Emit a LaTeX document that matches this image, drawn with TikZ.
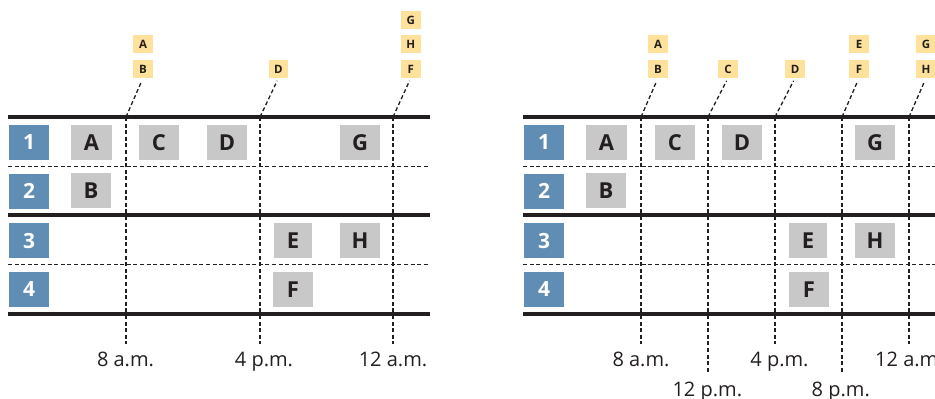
\documentclass[tikz,border=0pt]{standalone}
\usepackage{fontspec}
\setmainfont{Open Sans}
\definecolor{numblue}{HTML}{5F8DB4}
\definecolor{boxgray}{HTML}{C8C8C8}
\definecolor{labyellow}{HTML}{FEE29B}
\definecolor{ink}{HTML}{231F20}
\tikzset{
  railline/.style={draw=ink, line width=4pt},
  sepline/.style={draw=ink, line width=1.3pt, dash pattern=on 4pt off 2.6pt},
  timeline/.style={draw=ink, line width=1.3pt, dash pattern=on 4pt off 2.6pt},
  slantline/.style={draw=ink, line width=1.3pt, dash pattern=on 4pt off 2.6pt, shorten >=3pt},
  numbox/.style={fill=numblue, text=white, font=\bfseries\fontsize{21}{21}\selectfont, minimum width=40pt, minimum height=35pt, inner sep=0pt},
  jobbox/.style={fill=boxgray, text=ink, font=\bfseries\fontsize{22}{22}\selectfont, minimum width=40pt, minimum height=35pt, inner sep=0pt},
  tagbox/.style={fill=labyellow, text=ink, font=\bfseries\fontsize{11.5}{11.5}\selectfont, minimum width=19.7pt, minimum height=17.7pt, inner sep=0pt},
  timelabel/.style={font=\fontsize{20}{20}\selectfont, text=ink, anchor=base, inner sep=0pt},
}
\begin{document}
\begin{tikzpicture}[x=1pt, y=-1pt]
\clip (0,0) rectangle (935,399);
% ================= LEFT =================
% vertical time lines
\coordinate (Lv1t) at (126,117); \coordinate (Lv1b) at (126,344);
\coordinate (Lv2t) at (260,117); \coordinate (Lv2b) at (260,344);
\coordinate (Lv3t) at (393,117); \coordinate (Lv3b) at (393,344);
\draw[timeline] (Lv1t) -- (Lv1b);
\draw[timeline] (Lv2t) -- (Lv2b);
\draw[timeline] (Lv3t) -- (Lv3b);
% horizontal lines
\coordinate (Lh1a) at (8,117);   \coordinate (Lh1b) at (430,117);
\coordinate (Lh2a) at (8,166.5); \coordinate (Lh2b) at (430,166.5);
\coordinate (Lh3a) at (8,215);   \coordinate (Lh3b) at (430,215);
\coordinate (Lh4a) at (8,264.5); \coordinate (Lh4b) at (430,264.5);
\coordinate (Lh5a) at (8,313.5); \coordinate (Lh5b) at (430,313.5);
\draw[sepline] (Lh2a) -- (Lh2b);
\draw[sepline] (Lh4a) -- (Lh4b);
\draw[railline] (Lh1a) -- (Lh1b);
\draw[railline] (Lh3a) -- (Lh3b);
\draw[railline] (Lh5a) -- (Lh5b);
% row numbers
\node[numbox] (Ln1) at (29,142.5) {1};
\node[numbox] (Ln2) at (29,191) {2};
\node[numbox] (Ln3) at (29,240.5) {3};
\node[numbox] (Ln4) at (29,289.5) {4};
% jobs
\node[jobbox, minimum width=41pt] (LA) at (91.5,142.5) {A};
\node[jobbox] (LC) at (159,142.5) {C};
\node[jobbox] (LD) at (227,142.5) {D};
\node[jobbox] (LG) at (360,142.5) {G};
\node[jobbox] (LB) at (91,190.5) {B};
\node[jobbox, minimum width=38pt] (LE) at (293,240.5) {E};
\node[jobbox] (LH) at (360,240.5) {H};
\node[jobbox] (LF) at (293,289.5) {F};
% tags
\node[tagbox] (LtA) at (143,44) {A};
\node[tagbox] (LtB) at (143,69) {B};
\node[tagbox] (LtD) at (278.5,69) {D};
\node[tagbox] (LtG) at (410.8,20) {G};
\node[tagbox] (LtH) at (410.8,44) {H};
\node[tagbox] (LtF) at (410.8,69) {F};
\draw[slantline] (Lv1t) -- (LtB.south);
\draw[slantline] (Lv2t) -- (LtD.south);
\draw[slantline] (Lv3t) -- (LtF.south);
% time labels
\node[timelabel] (Ll1) at (125.5,366.7) {8 a.m.};
\node[timelabel] (Ll2) at (264,366.7) {4 p.m.};
\node[timelabel] (Ll3) at (393,366.7) {12 a.m.};
% ================= RIGHT =================
\coordinate (Rv1t) at (641,117); \coordinate (Rv1b) at (641,344);
\coordinate (Rv2t) at (708,117); \coordinate (Rv2b) at (708,373);
\coordinate (Rv3t) at (775,117); \coordinate (Rv3b) at (775,344);
\coordinate (Rv4t) at (842,117); \coordinate (Rv4b) at (842,373);
\coordinate (Rv5t) at (909,117); \coordinate (Rv5b) at (909,344);
\draw[timeline] (Rv1t) -- (Rv1b);
\draw[timeline] (Rv2t) -- (Rv2b);
\draw[timeline] (Rv3t) -- (Rv3b);
\draw[timeline] (Rv4t) -- (Rv4b);
\draw[timeline] (Rv5t) -- (Rv5b);
\coordinate (Rh1a) at (523,117);   \coordinate (Rh1b) at (945,117);
\coordinate (Rh2a) at (523,166.5); \coordinate (Rh2b) at (945,166.5);
\coordinate (Rh3a) at (523,215);   \coordinate (Rh3b) at (945,215);
\coordinate (Rh4a) at (523,264.5); \coordinate (Rh4b) at (945,264.5);
\coordinate (Rh5a) at (523,313.5); \coordinate (Rh5b) at (945,313.5);
\draw[sepline] (Rh2a) -- (Rh2b);
\draw[sepline] (Rh4a) -- (Rh4b);
\draw[railline] (Rh1a) -- (Rh1b);
\draw[railline] (Rh3a) -- (Rh3b);
\draw[railline] (Rh5a) -- (Rh5b);
\node[numbox] (Rn1) at (544,142.5) {1};
\node[numbox] (Rn2) at (544,191) {2};
\node[numbox] (Rn3) at (544,240.5) {3};
\node[numbox] (Rn4) at (544,289.5) {4};
\node[jobbox, minimum width=41pt] (RA) at (606.5,142.5) {A};
\node[jobbox] (RC) at (675,142.5) {C};
\node[jobbox] (RD) at (742,142.5) {D};
\node[jobbox] (RG) at (875,142.5) {G};
\node[jobbox] (RB) at (606,190.5) {B};
\node[jobbox, minimum width=38pt] (RE) at (808,240.5) {E};
\node[jobbox] (RH) at (875,240.5) {H};
\node[jobbox] (RF) at (809,289.5) {F};
\node[tagbox] (RtA) at (658,44) {A};
\node[tagbox] (RtB) at (658,69) {B};
\node[tagbox] (RtC) at (728,69) {C};
\node[tagbox] (RtD) at (795,69) {D};
\node[tagbox] (RtE) at (859,44) {E};
\node[tagbox] (RtF) at (859,69) {F};
\node[tagbox] (RtG) at (926,44) {G};
\node[tagbox] (RtH) at (926,69) {H};
\draw[slantline] (Rv1t) -- (RtB.south);
\draw[slantline] (Rv2t) -- (RtC.south);
\draw[slantline] (Rv3t) -- (RtD.south);
\draw[slantline] (Rv4t) -- (RtF.south);
\draw[slantline] (Rv5t) -- (RtH.south);
\node[timelabel] (Rl1) at (641,366.7) {8 a.m.};
\node[timelabel] (Rl2) at (779.5,366.7) {4 p.m.};
\node[timelabel, anchor=base west] (Rl3) at (875,366.7) {12 a.m.};
\node[timelabel] (Rl4) at (707.3,396.7) {12 p.m.};
\node[timelabel] (Rl5) at (840.8,396.7) {8 p.m.};
\end{tikzpicture}
\end{document}
